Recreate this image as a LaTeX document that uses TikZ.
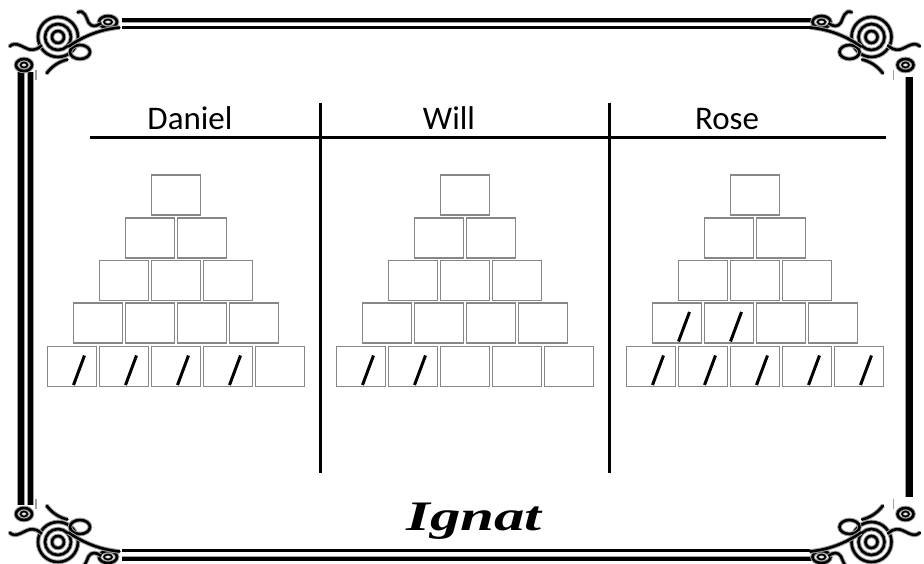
\documentclass[tikz,border=0pt]{standalone}
\usepackage{fontspec}
\setmainfont{Carlito}
\newfontfamily\sigfont{Liberation Serif}
\definecolor{brickgray}{RGB}{135,135,135}
\definecolor{halogray}{RGB}{160,160,160}

\tikzset{
  brick/.style={draw=brickgray, line width=1.8pt, minimum width=49pt,
    minimum height=40pt, inner sep=0pt, fill=white},
  tally/.style={line width=3pt, black},
  rule/.style={line width=3pt, black},
  namelabel/.style={anchor=base, inner sep=0pt, font=\fontsize{33}{38}\selectfont},
  orn/.style={line width=2.6pt, black, preaction={draw=halogray, line width=4.6pt}},
  ornthin/.style={line width=1.6pt, black, preaction={draw=halogray, line width=3pt}},
  frame/.style={line width=#1, black, preaction={draw=halogray, line width=#1+1.6pt}},
}

% one pyramid of boxes, rows 1 (top) to 5 (bottom)
\newcommand\brickpyramid[2]{%
  \foreach \r/\yy in {1/195,2/238,3/280.5,4/323,5/366.5}{
    \foreach \i in {1,...,\r}{
      \node[brick] (#1-\r-\i) at ({#2+(\i-(\r+1)/2)*52}, \yy) {};
    }
  }
}
% tally stroke inside a box
\newcommand\tallymark[1]{%
  \draw[tally] ([shift={(1.5,18.5)}]#1.center) -- ([shift={(12.5,-11)}]#1.center);
}

% one corner ornament, drawn for the top-left corner in local coordinates
\newcommand\cornerpiece{%
  \draw[orn] (37.5,16.5) circle (20);
  \draw[orn] (37.5,16.5) circle (13);
  \draw[orn] (37.5,16.5) circle (6);
  \draw[orn] (3.5,44.5) ellipse [x radius=8, y radius=6];
  \draw[ornthin] (3.5,44.5) ellipse [x radius=3.5, y radius=2.5];
  \draw[orn] (87.5,1.5) ellipse [x radius=9, y radius=6];
  \draw[ornthin] (87.5,1.5) ellipse [x radius=4, y radius=2.5];
  \draw[orn] (59.5,31.5) ellipse [x radius=10, y radius=7];
  % sweeping tails and curls
  \draw[orn, line cap=round] (48,26) .. controls (64,15) and (80,9) .. (99,7);
  \draw[orn, line cap=round] (57,-8) .. controls (64,-12) and (66,-2) .. (68,2)
                             .. controls (71,7) and (76,6) .. (80,3);
  \draw[orn, line cap=round] (-11,26) .. controls (-5,20) and (2,27) .. (9,29)
                             .. controls (14,30) and (18,28) .. (21,25);
  \draw[orn, line cap=round] (26,53) .. controls (32,45) and (39,41) .. (47,39);
  \draw[line width=1.4pt, halogray] (15.5,50) -- (15.5,60);
}

\begin{document}
\begin{tikzpicture}[x=1pt, y=-1pt]
\useasboundingbox (0,0) rectangle (924,564);

% border lines
\draw[frame=4pt] (122,20.5) -- (815,20.5);
\draw[frame=2.2pt] (122,27.5) -- (815,27.5);
\draw[frame=2.2pt] (122,550.5) -- (815,550.5);
\draw[frame=4pt] (122,558.5) -- (815,558.5);
\draw[frame=6pt] (21,72) -- (21,505);
\draw[frame=4.5pt] (30.5,72) -- (30.5,505);
\draw[frame=7pt] (909,77) -- (909,497);

% corner ornaments
\begin{scope}[shift={(20.5,20.5)}]\cornerpiece\end{scope}
\begin{scope}[shift={(909,20.5)}, xscale=-1]\cornerpiece\end{scope}
\begin{scope}[shift={(20.5,558.5)}, yscale=-1]\cornerpiece\end{scope}
\begin{scope}[shift={(909,558.5)}, xscale=-1, yscale=-1]\cornerpiece\end{scope}

% headings and column rules
\coordinate (hl) at (90,137.5);
\coordinate (hr) at (886,137.5);
\draw[rule] (hl) -- (hr);
\coordinate (d1t) at (320,103);
\coordinate (d1b) at (320,473);
\coordinate (d2t) at (609,103);
\coordinate (d2b) at (609,473);
\draw[rule] (d1t) -- (d1b);
\draw[rule] (d2t) -- (d2b);

\node[namelabel] (daniel) at (190,130) {Daniel};
\node[namelabel] (will) at (449,130) {Will};
\node[namelabel] (rose) at (727,130) {Rose};

% pyramids
\brickpyramid{dan}{176}
\brickpyramid{wil}{465}
\brickpyramid{ros}{755}

\foreach \i in {1,...,4}{\tallymark{dan-5-\i}}
\foreach \i in {1,2}{\tallymark{wil-5-\i}}
\foreach \i in {1,...,5}{\tallymark{ros-5-\i}}
\foreach \i in {1,2}{\tallymark{ros-4-\i}}

% signature
\node[inner sep=0pt, xscale=1.45] (sig) at (474,521)
  {\sigfont\bfseries\itshape\fontsize{42}{46}\selectfont Ignat};
\end{tikzpicture}
\end{document}
